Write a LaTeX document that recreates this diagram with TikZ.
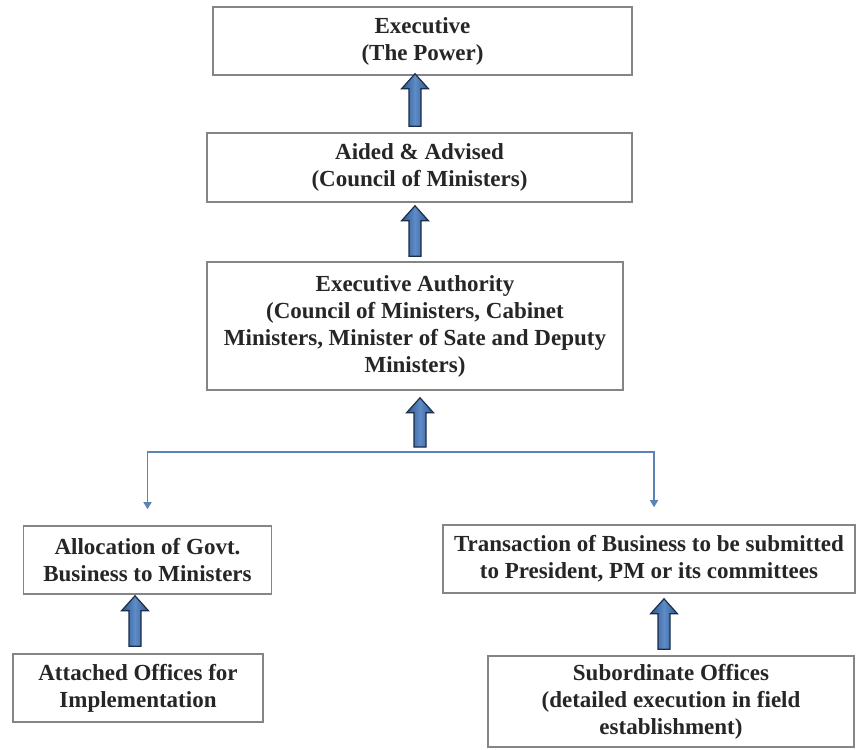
\documentclass[tikz,border=0pt]{standalone}
\usepackage{fontspec}
\setmainfont{Liberation Serif}
\usetikzlibrary{calc,arrows.meta}
\definecolor{boxline}{HTML}{858585}
\definecolor{txt}{HTML}{262626}
\definecolor{lnkc}{HTML}{5A84B5}
\definecolor{arrfill}{HTML}{2C568E}
\definecolor{arrlight}{HTML}{5E8CC6}
\definecolor{arrline}{HTML}{1A2D4A}
\tikzset{
  box/.style={draw=boxline, line width=1.6pt, fill=white, inner sep=0pt,
    align=center, text=txt, font=\bfseries\fontsize{23}{27}\selectfont},
  lnk/.style={draw=lnkc, line width=1.3pt},
  blockarr/.style={draw=arrline, line width=1.2pt, left color=arrfill, right color=arrfill, middle color=arrlight}
}
\newcommand\blockup[2]{%
  \path[blockarr] let \p1=(#1), \p2=(#2) in
    (\x1-6pt,\y1) -- (\x1-6pt,\y2-15pt) -- (\x1-13.5pt,\y2-15pt) -- (\x1,\y2)
    -- (\x1+13.5pt,\y2-15pt) -- (\x1+6pt,\y2-15pt) -- (\x1+6pt,\y1) -- cycle;}
\begin{document}
\begin{tikzpicture}[x=1pt,y=-1pt]
\useasboundingbox (0,0) rectangle (858,749);
\fill[white] (0,0) rectangle (858,749);

\node[box, minimum width=419pt, minimum height=68pt] (b1) at (422.5,41)
  {Executive\\(The Power)};
\node[box, minimum width=425pt, minimum height=69pt] (b2) at (419.5,167.5)
  {Aided \& Advised\\(Council of Ministers)};
\node[box, minimum width=416pt, minimum height=128pt] (b3) at (415,326)
  {Executive Authority\\(Council of Ministers, Cabinet\\Ministers, Minister of Sate and Deputy\\Ministers)};
\node[box, minimum width=248pt, minimum height=68pt] (b4) at (147.5,560)
  {Allocation of Govt.\\Business to Ministers};
\node[box, minimum width=412pt, minimum height=68pt] (b5) at (649,559)
  {Transaction of Business to be submitted\\to President, PM or its committees};
\node[box, minimum width=250pt, minimum height=68pt] (b6) at (138,688)
  {Attached Offices for\\Implementation};
\node[box, minimum width=366pt, minimum height=91pt] (b7) at (671,701.5)
  {Subordinate Offices\\(detailed execution in field\\establishment)};

\coordinate (jn) at (420,452);
\draw[lnk,-{Triangle[width=8pt,length=7pt]}] (jn) -| ($(b4.north)+(0,-16)$);
\draw[lnk,-{Triangle[width=8pt,length=7pt]}] (jn) -| ($(b5.north)+(5,-17)$);

\blockup{$(b2.north)+(-4.5,-6)$}{$(b1.south)+(0,-2)$}
\blockup{$(b3.north)+(0,-5)$}{$(b2.south)+(0,3)$}
\blockup{$(jn)+(0,-5)$}{$(b3.south)+(0,7)$}
\blockup{$(b6.north)+(-3,-7)$}{$(b4.south)+(0,1)$}
\blockup{$(b7.north)+(-7,-6)$}{$(b5.south)+(0,5)$}
\end{tikzpicture}
\end{document}
